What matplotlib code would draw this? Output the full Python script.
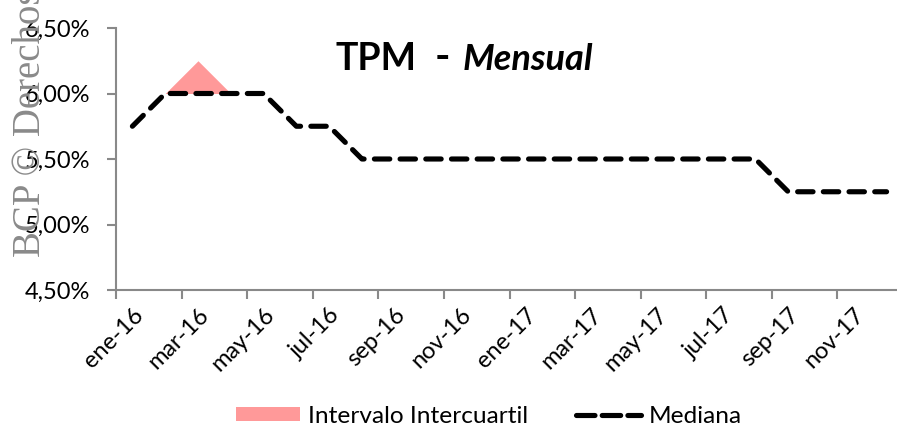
import matplotlib.pyplot as plt
import matplotlib.transforms as mtransforms
from matplotlib.lines import Line2D
from matplotlib.patches import Patch
from matplotlib.ticker import FuncFormatter

plt.rcParams['font.family'] = ['Lato', 'DejaVu Sans']

# Datos de la TPM mensual (%)
meses = ['ene-16', 'feb-16', 'mar-16', 'abr-16', 'may-16', 'jun-16',
         'jul-16', 'ago-16', 'sep-16', 'oct-16', 'nov-16', 'dic-16',
         'ene-17', 'feb-17', 'mar-17', 'abr-17', 'may-17', 'jun-17',
         'jul-17', 'ago-17', 'sep-17', 'oct-17', 'nov-17', 'dic-17']
mediana = [5.75, 6.00, 6.00, 6.00, 6.00, 5.75, 5.75, 5.50, 5.50, 5.50,
           5.50, 5.50, 5.50, 5.50, 5.50, 5.50, 5.50, 5.50, 5.50, 5.50,
           5.25, 5.25, 5.25, 5.25]
cuartil_1 = [5.75, 6.00, 6.00, 6.00, 6.00, 5.75, 5.75, 5.50, 5.50, 5.50,
             5.50, 5.50, 5.50, 5.50, 5.50, 5.50, 5.50, 5.50, 5.50, 5.50,
             5.25, 5.25, 5.25, 5.25]
cuartil_3 = [5.75, 6.00, 6.25, 6.00, 6.00, 5.75, 5.75, 5.50, 5.50, 5.50,
             5.50, 5.50, 5.50, 5.50, 5.50, 5.50, 5.50, 5.50, 5.50, 5.50,
             5.25, 5.25, 5.25, 5.25]

rosa = '#ff9999'
gris = '#898989'
fs = 17

fig = plt.figure(figsize=(8.97, 4.32), dpi=100)
ax = fig.add_axes([116 / 897, 142 / 432, 787 / 897, 262 / 432])

x = list(range(len(meses)))
ax.fill_between(x, cuartil_1, cuartil_3, color=rosa, linewidth=0)
ax.plot(x, mediana, color='black', linewidth=3.7, dashes=(3.0, 2.0),
        dash_capstyle='round', solid_joinstyle='round')

ax.set_xlim(-0.5, len(meses) - 0.5)
ax.set_ylim(4.5, 6.5)
ax.set_yticks([4.5, 5.0, 5.5, 6.0, 6.5])
ax.yaxis.set_major_formatter(FuncFormatter(lambda v, p: f'{v:.2f}%'.replace('.', ',')))

# marcas entre categorias, etiquetas cada dos meses
ax.set_xticks([i - 0.5 for i in range(0, len(meses), 2)])
ax.set_xticklabels([])
ax.set_xticks(x[::2], minor=True)
ax.set_xticklabels(meses[::2], minor=True, rotation=45, ha='right',
                   va='top', rotation_mode='anchor', fontsize=fs)
desplaza = mtransforms.ScaledTranslation(-5 / 100, 0, fig.dpi_scale_trans)
for lbl in ax.get_xticklabels(minor=True):
    lbl.set_transform(lbl.get_transform() + desplaza)
ax.tick_params(axis='x', which='minor', length=0, pad=10)
ax.tick_params(axis='x', which='major', length=6.5, width=1.5, color=gris)
ax.tick_params(axis='y', length=6.5, width=1.5, color=gris, labelsize=fs, pad=12)

for s in ['top', 'right']:
    ax.spines[s].set_visible(False)
for s in ['left', 'bottom']:
    ax.spines[s].set_color(gris)
    ax.spines[s].set_linewidth(1.5)

# titulo
fig.text(335 / 897, 1 - 70 / 432, 'TPM', fontsize=27, fontweight='bold',
         va='baseline', ha='left')
fig.text(442 / 897, 1 - 70 / 432, '-', fontsize=30, fontweight='bold',
         va='baseline', ha='center')
fig.text(463 / 897, 1 - 70 / 432, 'Mensual', fontsize=26, fontweight='bold',
         fontstyle='italic', va='baseline', ha='left')

handles = [Patch(facecolor=rosa, edgecolor='none', label='Intervalo Intercuartil'),
           Line2D([], [], color='black', linewidth=3.7, dashes=(3.6, 1.4),
                  dash_capstyle='round', label='Mediana')]
fig.legend(handles=handles, loc='center', bbox_to_anchor=(0.545, 0.037),
           ncol=2, frameon=False, fontsize=17.6, handlelength=2.65,
           handleheight=0.55, columnspacing=1.95, handletextpad=0.33)

# marca de agua
fig.text(31 / 897, 1 - 257 / 432, 'BCP © Derechos', rotation=90,
         family='Liberation Serif', fontsize=28, color='#8a8a8a',
         ha='center', va='bottom', zorder=5)

fig.savefig('out.png', dpi=100)
